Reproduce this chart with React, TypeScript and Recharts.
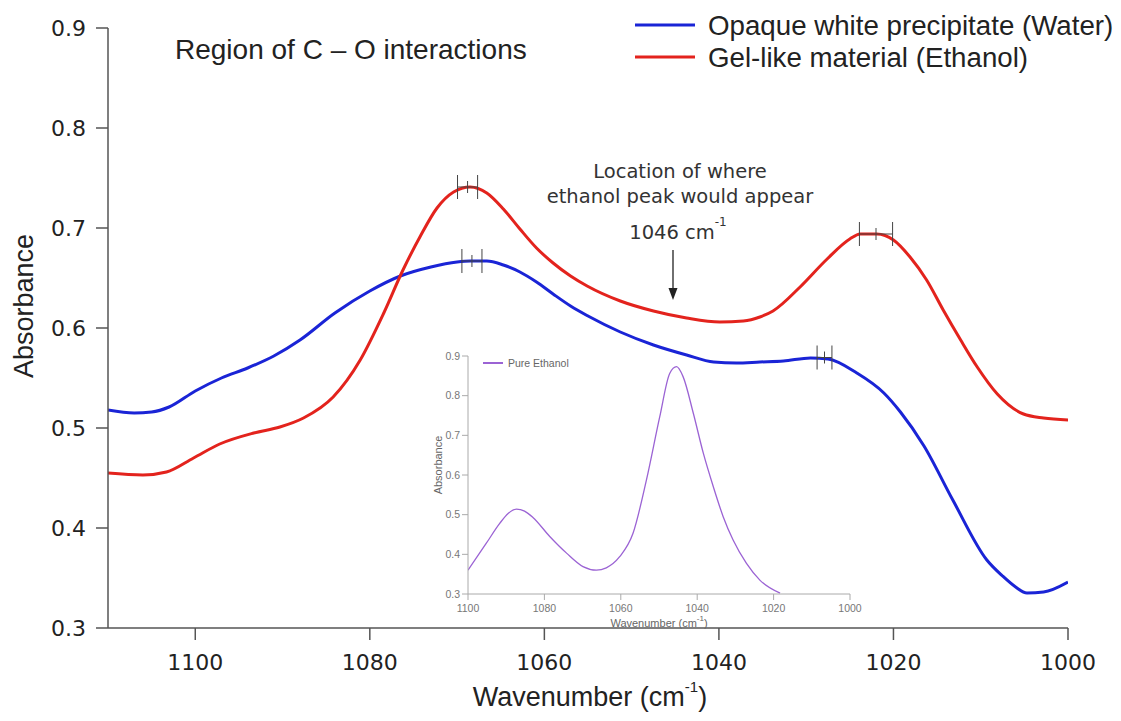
import { ComposedChart, LineChart, Line, Scatter, ErrorBar, XAxis, YAxis } from 'recharts'

// wavenumber (cm-1), absorbance
const waterPoints: [number, number][] = [
  [1110, 0.518], [1107, 0.515], [1105, 0.516], [1103, 0.521], [1100, 0.537],
  [1097, 0.55], [1094, 0.56], [1091, 0.572], [1088, 0.588], [1084, 0.615],
  [1080, 0.637], [1076.5, 0.652], [1073, 0.661], [1070, 0.666], [1068.5, 0.667],
  [1066.6, 0.667], [1064.7, 0.663], [1062.8, 0.656], [1060.9, 0.646], [1059, 0.634],
  [1057, 0.622], [1055, 0.612], [1051.3, 0.596], [1047.5, 0.583], [1043.7, 0.573],
  [1040.6, 0.566], [1038, 0.565], [1035.3, 0.566], [1032.6, 0.567], [1029.5, 0.57],
  [1027.5, 0.569], [1024.2, 0.555], [1021.1, 0.535], [1019.2, 0.516], [1016.5, 0.482],
  [1013.2, 0.428], [1009.3, 0.368], [1007.5, 0.352], [1006, 0.341], [1004.7, 0.335],
  [1002.8, 0.336], [1000, 0.346],
]

const ethanolGelPoints: [number, number][] = [
  [1110, 0.455], [1106, 0.453], [1103.3, 0.456], [1100.2, 0.47], [1097.2, 0.484],
  [1093.3, 0.495], [1090.3, 0.501], [1087.6, 0.51], [1084.2, 0.531], [1081.1, 0.568],
  [1078.4, 0.615], [1076.2, 0.658], [1074.2, 0.692], [1072.3, 0.72], [1070.4, 0.736],
  [1068.5, 0.741], [1066.6, 0.735], [1064.7, 0.719], [1062.8, 0.699], [1060.9, 0.68],
  [1059, 0.665], [1057, 0.652], [1055.1, 0.642], [1051.3, 0.627], [1047.5, 0.617],
  [1043.7, 0.61], [1039.9, 0.606], [1037.2, 0.607], [1035.3, 0.611], [1033.8, 0.617],
  [1030.7, 0.641], [1027.6, 0.669], [1025, 0.689], [1023.8, 0.694], [1021.9, 0.694],
  [1020, 0.688], [1018.1, 0.671], [1016.2, 0.648], [1014.3, 0.618], [1012.3, 0.588],
  [1010.4, 0.561], [1008.1, 0.534], [1005.1, 0.514], [1002.8, 0.51], [1000, 0.508],
]

const pureEthanolPoints: [number, number][] = [
  [1100, 0.36], [1095.2, 0.428], [1091.7, 0.478], [1089.5, 0.503], [1087.3, 0.514],
  [1085.2, 0.509], [1083, 0.493], [1078.6, 0.445], [1074.2, 0.403], [1069.9, 0.369],
  [1066.4, 0.36], [1063.8, 0.366], [1060.3, 0.394], [1056.8, 0.453], [1053.3, 0.587],
  [1049.8, 0.747], [1047.2, 0.856], [1045.4, 0.873], [1043.7, 0.848], [1041, 0.755],
  [1038.4, 0.655], [1035.8, 0.571], [1033.2, 0.495], [1030.6, 0.436], [1027.1, 0.377],
  [1023.6, 0.335], [1018.3, 0.302],
]

// peak position with its uncertainty (cm-1)
const peakMarkers = [
  { x: 1068.8, y: 0.741, err: 1.15 },
  { x: 1022.0, y: 0.694, err: 1.9 },
  { x: 1068.3, y: 0.667, err: 1.15 },
  { x: 1027.9, y: 0.5705, err: 0.85 },
]

const mainXTicks = [1100, 1080, 1060, 1040, 1020, 1000]
const mainYTicks = [0.3, 0.4, 0.5, 0.6, 0.7, 0.8, 0.9]
const insetXTicks = [1100, 1080, 1060, 1040, 1020, 1000]
const insetYTicks = [0.3, 0.4, 0.5, 0.6, 0.7, 0.8, 0.9]

const toRows = (pts: [number, number][]) => pts.map(([x, y]) => ({ x, y }))

const BLUE = '#1a24d6'
const RED = '#e3231d'
const PURPLE = '#9b63d4'
const SANS = '"Liberation Sans", Arial, sans-serif'
const LUCIDA = '"DejaVu Sans", sans-serif'

const legendItems = [
  { label: 'Opaque white precipitate (Water)', color: BLUE },
  { label: 'Gel-like material (Ethanol)', color: RED },
]

function PeakTick(props: any) {
  const { cx, cy } = props
  return <line x1={cx} x2={cx} y1={cy - 6} y2={cy + 6} stroke="#444" strokeWidth={1} />
}

function MainChart() {
  return (
    <ComposedChart width={1121} height={721} margin={{ top: 28, right: 53, bottom: 0, left: 0 }}>
      <XAxis
        type="number"
        dataKey="x"
        domain={[1000, 1110]}
        reversed
        allowDataOverflow
        ticks={mainXTicks}
        height={93}
        tickSize={12}
        tickMargin={14}
        stroke="#555"
        strokeWidth={1.5}
        tick={{ fill: '#222', fontSize: 22, fontFamily: LUCIDA }}
      />
      <YAxis
        type="number"
        domain={[0.3, 0.9]}
        ticks={mainYTicks}
        width={108}
        tickSize={12}
        tickMargin={10}
        stroke="#555"
        strokeWidth={1.5}
        tickFormatter={(v: number) => v.toFixed(1)}
        tick={{ fill: '#222', fontSize: 22, fontFamily: LUCIDA }}
      />
      <Line data={toRows(waterPoints)} dataKey="y" type="monotone" stroke={BLUE} strokeWidth={3} dot={false} isAnimationActive={false} />
      <Line data={toRows(ethanolGelPoints)} dataKey="y" type="monotone" stroke={RED} strokeWidth={3} dot={false} isAnimationActive={false} />
      <Scatter data={peakMarkers} dataKey="y" shape={PeakTick} legendType="none" isAnimationActive={false}>
        <ErrorBar dataKey="err" direction="x" width={12} stroke="#444" strokeWidth={1} isAnimationActive={false} />
      </Scatter>
    </ComposedChart>
  )
}

function InsetChart() {
  return (
    <LineChart width={450} height={300} margin={{ top: 16, right: 20, bottom: 0, left: 0 }}>
      <XAxis
        type="number"
        dataKey="x"
        domain={[1000, 1100]}
        reversed
        allowDataOverflow
        ticks={insetXTicks}
        height={46}
        tickSize={6}
        tickMargin={5}
        stroke="#aaa"
        tick={{ fill: '#777', fontSize: 10.5, fontFamily: SANS }}
      />
      <YAxis
        type="number"
        domain={[0.3, 0.9]}
        ticks={insetYTicks}
        width={48}
        tickSize={6}
        tickMargin={2}
        stroke="#aaa"
        tickFormatter={(v: number) => v.toFixed(1)}
        tick={{ fill: '#777', fontSize: 10.5, fontFamily: SANS }}
      />
      <Line data={toRows(pureEthanolPoints)} dataKey="y" type="monotone" stroke={PURPLE} strokeWidth={1.3} dot={false} isAnimationActive={false} />
    </LineChart>
  )
}

function Annotations() {
  return (
    <svg width={1121} height={721} style={{ position: 'absolute', left: 0, top: 0, pointerEvents: 'none' }}>
      <text x={175} y={59} fontSize={28} fontFamily={SANS} fill="#222">Region of C – O interactions</text>

      {legendItems.map((item, i) => (
        <g key={item.label}>
          <line x1={635} x2={695} y1={25 + i * 32} y2={25 + i * 32} stroke={item.color} strokeWidth={3} />
          <text x={708} y={35 + i * 32} fontSize={27.7} fontFamily={SANS} fill="#222">{item.label}</text>
        </g>
      ))}

      <g fontFamily={LUCIDA} fontSize={19.5} fill="#333" textAnchor="middle">
        <text x={680} y={178}>Location of where</text>
        <text x={680} y={203}>ethanol peak would appear</text>
        <text x={678} y={239}>
          1046 cm<tspan dy={-13} fontSize={12}>-1</tspan>
        </text>
      </g>
      <line x1={673} x2={673} y1={250} y2={290} stroke="#222" strokeWidth={1.3} />
      <polygon points="668.5,288 677.5,288 673,300" fill="#222" />

      <text transform="translate(33,306) rotate(-90)" textAnchor="middle" fontSize={27} fontFamily={SANS} fill="#222">
        Absorbance
      </text>
      <text x={590} y={706} textAnchor="middle" fontSize={27} fontFamily={SANS} fill="#222">
        Wavenumber (cm<tspan dy={-14} fontSize={15}>-1</tspan><tspan dy={14}>)</tspan>
      </text>

      <line x1={483} x2={503} y1={363} y2={363} stroke={PURPLE} strokeWidth={2} />
      <text x={508} y={367} fontSize={10.5} fontFamily={SANS} fill="#666">Pure Ethanol</text>
      <text transform="translate(442,465) rotate(-90)" textAnchor="middle" fontSize={11} fontFamily={SANS} fill="#666">
        Absorbance
      </text>
      <text x={659} y={627} textAnchor="middle" fontSize={11} fontFamily={SANS} fill="#666">
        Wavenumber (cm<tspan dy={-6} fontSize={8}>-1</tspan><tspan dy={6}>)</tspan>
      </text>
    </svg>
  )
}

export default function App() {
  return (
    <div style={{ position: 'absolute', left: 0, top: 0, width: 1121, height: 721, background: '#fff' }}>
      <MainChart />
      <div style={{ position: 'absolute', left: 420, top: 340 }}>
        <InsetChart />
      </div>
      <Annotations />
    </div>
  )
}
